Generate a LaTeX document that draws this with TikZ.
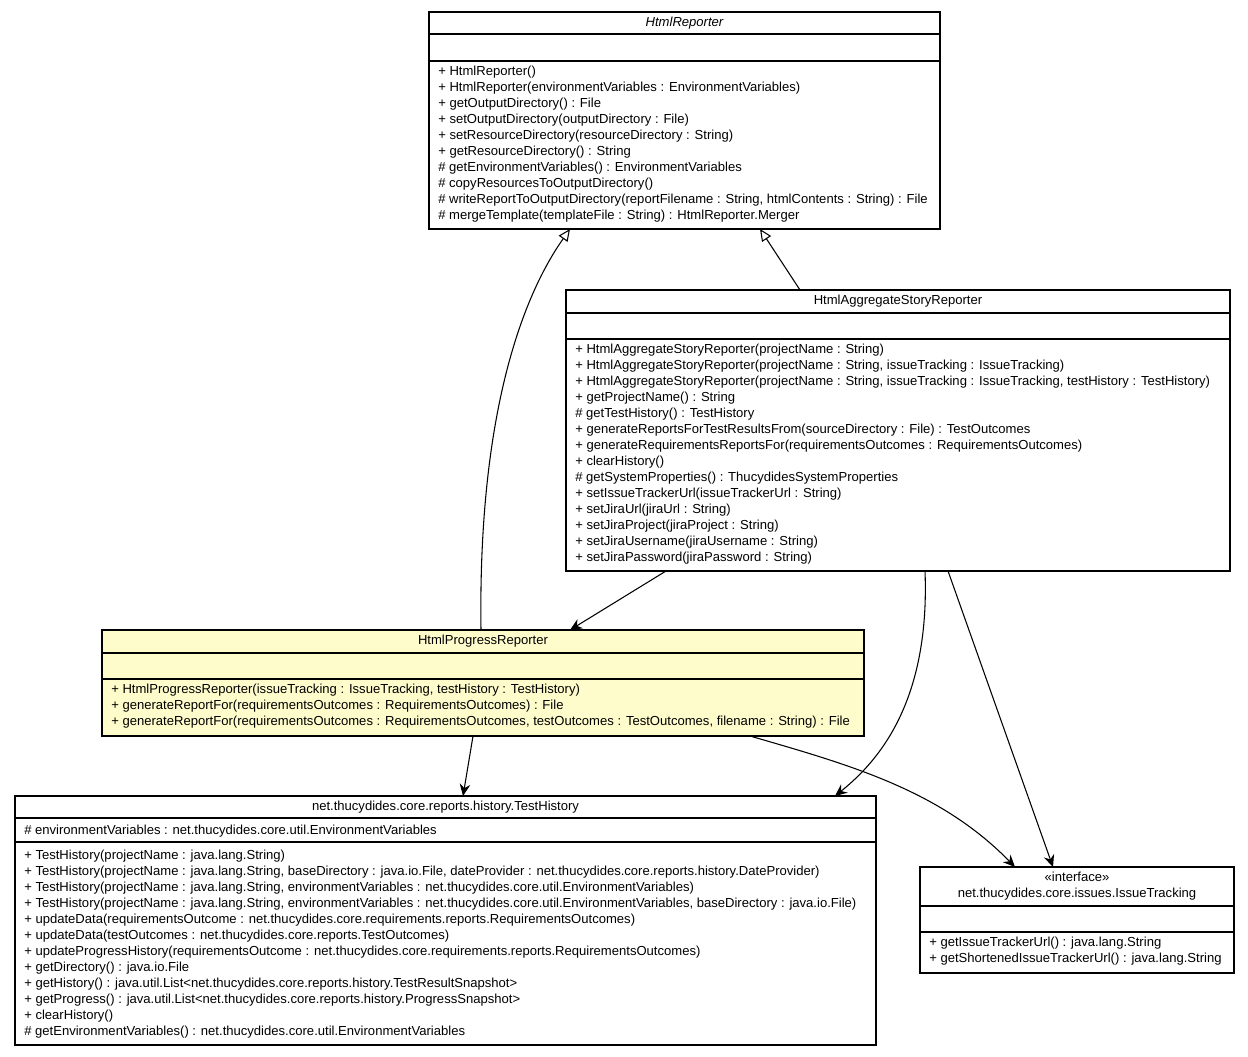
\documentclass[tikz,border=0pt]{standalone}
\usepackage{fontspec}
\setmainfont{Liberation Sans}
\usetikzlibrary{arrows.meta}
\begin{document}
\begin{tikzpicture}
        [x=0.75pt, y=-0.75pt,
        box/.style={draw, thick, fill=white},
        note/.style={fill=yellow!20},
        label/.style={anchor=north west, inner sep=0pt, align=left, font=\fontsize{9.8}{12}\selectfont},
        head/.style={inner sep=0pt, align=center, font=\fontsize{9.8}{12}\selectfont},
        extends/.style={thick, -{Triangle[open, length=9pt, width=8pt]}},
        uses/.style={thick, -{Stealth[length=9pt, width=8pt, inset=3pt]}}]
        \useasboundingbox (0,0) rectangle (1248,1056);

        % HtmlReporter
        \draw[box] (429,12) rectangle (940,229);
        \draw[thick] (429,34) -- (940,34) (429,61) -- (940,61);
        \node[head, font=\fontsize{9.8}{12}\selectfont\itshape] (reporter) at (684.5,23) {HtmlReporter};
        \node[label] (reporterOps) at (438,66) {+ HtmlReporter()\\
        + HtmlReporter(environmentVariables : EnvironmentVariables)\\
        + getOutputDirectory() : File\\
        + setOutputDirectory(outputDirectory : File)\\
        + setResourceDirectory(resourceDirectory : String)\\
        + getResourceDirectory() : String\\
        \# getEnvironmentVariables() : EnvironmentVariables\\
        \# copyResourcesToOutputDirectory()\\
        \# writeReportToOutputDirectory(reportFilename : String, htmlContents : String) : File\\
        \# mergeTemplate(templateFile : String) : HtmlReporter.Merger};

        % HtmlAggregateStoryReporter
        \draw[box] (566,290) rectangle (1230,571);
        \draw[thick] (566,313) -- (1230,313) (566,339) -- (1230,339);
        \node[head] (aggregate) at (898,301) {HtmlAggregateStoryReporter};
        \node[label] (aggregateOps) at (575,344) {+ HtmlAggregateStoryReporter(projectName : String)\\
        + HtmlAggregateStoryReporter(projectName : String, issueTracking : IssueTracking)\\
        + HtmlAggregateStoryReporter(projectName : String, issueTracking : IssueTracking, testHistory : TestHistory)\\
        + getProjectName() : String\\
        \# getTestHistory() : TestHistory\\
        + generateReportsForTestResultsFrom(sourceDirectory : File) : TestOutcomes\\
        + generateRequirementsReportsFor(requirementsOutcomes : RequirementsOutcomes)\\
        + clearHistory()\\
        \# getSystemProperties() : ThucydidesSystemProperties\\
        + setIssueTrackerUrl(issueTrackerUrl : String)\\
        + setJiraUrl(jiraUrl : String)\\
        + setJiraProject(jiraProject : String)\\
        + setJiraUsername(jiraUsername : String)\\
        + setJiraPassword(jiraPassword : String)};

        % HtmlProgressReporter
        \draw[box, note] (102,630) rectangle (864,736);
        \draw[thick] (102,653) -- (864,653) (102,679) -- (864,679);
        \node[head] (progress) at (483,641) {HtmlProgressReporter};
        \node[label] (progressOps) at (111,684) {+ HtmlProgressReporter(issueTracking : IssueTracking, testHistory : TestHistory)\\
        + generateReportFor(requirementsOutcomes : RequirementsOutcomes) : File\\
        + generateReportFor(requirementsOutcomes : RequirementsOutcomes, testOutcomes : TestOutcomes, filename : String) : File};

        % TestHistory
        \draw[box] (15,796) rectangle (876,1045);
        \draw[thick] (15,818) -- (876,818) (15,842) -- (876,842);
        \node[head] (history) at (445.5,807) {net.thucydides.core.reports.history.TestHistory};
        \node[label] (historyAttrs) at (24,825) {\# environmentVariables : net.thucydides.core.util.EnvironmentVariables};
        \node[label] (historyOps) at (24,850) {+ TestHistory(projectName : java.lang.String)\\
        + TestHistory(projectName : java.lang.String, baseDirectory : java.io.File, dateProvider : net.thucydides.core.reports.history.DateProvider)\\
        + TestHistory(projectName : java.lang.String, environmentVariables : net.thucydides.core.util.EnvironmentVariables)\\
        + TestHistory(projectName : java.lang.String, environmentVariables : net.thucydides.core.util.EnvironmentVariables, baseDirectory : java.io.File)\\
        + updateData(requirementsOutcome : net.thucydides.core.requirements.reports.RequirementsOutcomes)\\
        + updateData(testOutcomes : net.thucydides.core.reports.TestOutcomes)\\
        + updateProgressHistory(requirementsOutcome : net.thucydides.core.requirements.reports.RequirementsOutcomes)\\
        + getDirectory() : java.io.File\\
        + getHistory() : java.util.List<net.thucydides.core.reports.history.TestResultSnapshot>\\
        + getProgress() : java.util.List<net.thucydides.core.reports.history.ProgressSnapshot>\\
        + clearHistory()\\
        \# getEnvironmentVariables() : net.thucydides.core.util.EnvironmentVariables};

        % IssueTracking
        \draw[box] (920,867) rectangle (1234,973);
        \draw[thick] (920,906) -- (1234,906) (920,932) -- (1234,932);
        \node[head] (tracking) at (1077,886.5) {«interface»\\net.thucydides.core.issues.IssueTracking};
        \node[label] (trackingOps) at (929,937) {+ getIssueTrackerUrl() : java.lang.String\\
        + getShortenedIssueTrackerUrl() : java.lang.String};

        % inheritance
        \draw[extends] (481,630) .. controls (478,420) and (520,300) .. (570,229);
        \draw[extends] (800,290) -- (760,229);
        % dependencies
        \draw[uses] (666,571) -- (570,630);
        \draw[uses] (925,571) .. controls (930,700) and (880,760) .. (835,796);
        \draw[uses] (948,571) -- (1053,867);
        \draw[uses] (473,736) -- (463,796);
        \draw[uses] (750,736) .. controls (850,765) and (940,790) .. (1015,867);
\end{tikzpicture}
\end{document}
